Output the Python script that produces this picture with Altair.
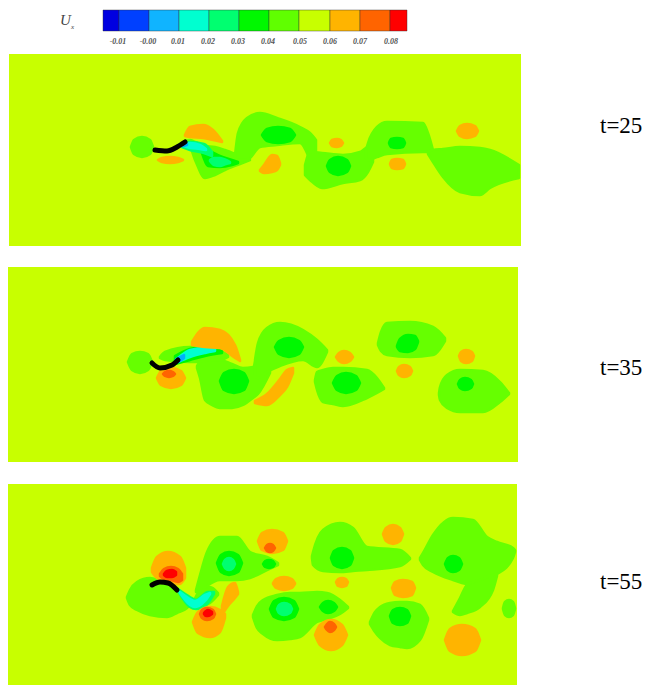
import altair as alt
import pandas as pd

# ---- frame: values are read in picture pixels
PANEL_X0 = [9, 8, 8]
PANEL_X1 = [521, 518, 517]
PANEL_Y0 = [54, 267, 484]
PANEL_Y1 = [246, 462, 685]
BACKGROUND = "#C8FF00"

LEVEL_ORDER = ["g1", "g2", "g3", "g4", "b", "o1", "o2", "r"]
LEVEL_COLORS = {"g1": "#66FF00", "g2": "#00F800", "g3": "#00FF70", "g4": "#00FFD0",
                "b": "#00B0FF", "o1": "#FFB400", "o2": "#FF6400", "r": "#FF0000"}

# ---- colour bar
BAR_EDGES = [103, 119, 149, 179, 209, 239, 269, 299, 330, 360, 390, 407]
BAR_COLORS = ["#0000E0", "#0040FF", "#10B4FF", "#00FFD0", "#00FF70", "#00F800",
              "#60FF00", "#C8FF00", "#FFB400", "#FF6400", "#FF0000"]
BAR_TICKS = ["-0.01", "-0.00", "0.01", "0.02", "0.03", "0.04", "0.05", "0.06", "0.07", "0.08"]
BAR_TICK_X = [118, 148, 178, 208, 238, 268, 300, 330, 360, 391]

TIME_LABELS = ["t=25", "t=35", "t=55"]
TIME_Y = [133, 375, 589]

# ---- contour regions: (level, x, upper edge, lower edge)
PANEL1 = [
    ("g1", [131,134,142,150,153], [147,140,137,140,147], [147,154,157,154,147]),
    ("g1", [178,190,195,205,215,225,240,250], [145,140,142,146,147,150,156,160], [145,148,160,178,175,170,164,160]),
    ("g1", [235,238,247,260,277,300,310,316], [155,133,118,113,118,127,133,140], [158,160,160,147,145,143,160,175]),
    ("g1", [305,310,322,343,360,368,373], [165,152,153,155,152,147,152], [175,180,188,183,180,172,162]),
    ("g1", [366,368,377,387,423,428,433], [150,143,127,122,123,133,150], [158,160,157,154,152,152,152]),
    ("g1", [428,433,443,460,480,490,519], [152,150,149,147,148,150,165], [154,162,177,192,195,188,178]),
    ("g2", [262,267,278,290,295], [135,129,127,129,135], [135,141,143,141,135]),
    ("g2", [327,330,338,347,350], [166,160,157,160,166], [166,172,175,172,166]),
    ("g2", [389,391,397,403,405], [143,139,138,139,143], [143,147,148,147,143]),
    ("g2", [202,208,220,232,238], [152,151,156,160,162], [153,166,167,165,163]),
    ("g3", [210,214,220,226,230], [160,158,158,160,162], [161,165,166,164,163]),
    ("g3", [182,190,204,212], [146,142,144,152], [147,150,153,156]),
    ("g4", [184,190,200,206], [145,143,145,149], [146,148,149,150]),
    ("b",  [182,184,187], [144,143,144], [146,146,145]),
    ("o1", [185,190,203,213,222], [135,127,125,130,141], [136,137,138,140,142]),
    ("o1", [158,162,170,178,183], [160,158,157,158,160], [160,162,163,162,160]),
    ("o1", [260,264,272,277,280], [170,165,155,156,163], [171,173,172,170,165]),
    ("o1", [330,332,337,341,343], [143,140,139,140,143], [143,146,147,146,143]),
    ("o1", [390,392,397,403,405], [164,160,159,160,164], [164,168,169,168,164]),
    ("o1", [457,460,467,475,478], [131,126,124,126,131], [131,136,138,136,131]),
]
PANEL2 = [
    ("g1", [128,132,140,148,152], [362,354,352,354,362], [362,370,373,370,362]),
    ("g1", [160,165,190,215,228], [357,352,347,349,355], [358,360,362,362,357]),
    ("g1", [197,200,205,212,220,232,243,253,258,270], [366,362,361,360,360,364,368,367,353,360], [368,378,400,405,408,408,405,398,394,373]),
    ("g1", [255,258,267,280,303,317,327], [360,343,328,323,330,340,350], [375,378,372,366,360,367,352]),
    ("g1", [315,317,323,333,343,367,377,384], [380,372,370,368,368,370,378,388], [382,390,402,404,406,398,393,389]),
    ("g1", [378,381,387,410,433,445], [343,332,323,322,327,338], [345,351,355,357,355,341]),
    ("g1", [439,440,447,460,483,500,509], [393,387,375,370,371,382,393], [395,400,408,412,412,402,394]),
    ("g2", [275,279,289,299,303], [347,341,338,341,347], [347,354,357,354,347]),
    ("g2", [220,224,234,244,248], [381,373,370,373,381], [381,390,393,390,381]),
    ("g2", [333,337,346,356,360], [383,376,373,376,383], [383,390,393,390,383]),
    ("g2", [397,400,408,415,418], [346,339,335,336,341], [347,351,352,349,342]),
    ("g2", [458,460,465,471,473], [384,380,378,380,384], [384,388,390,388,384]),
    ("g2", [175,190,205,222], [356,349,347,351], [364,360,356,353]),
    ("g4", [178,190,205,215], [358,350,348,349], [362,357,353,351]),
    ("b",  [176,180,184], [359,357,355], [362,361,358]),
    ("o1", [192,205,220,235,240], [342,328,330,345,360], [345,347,348,358,361]),
    ("o1", [157,161,171,181,185], [378,371,368,371,378], [378,385,388,385,378]),
    ("o2", [163,165,169,173,175], [374,372,371,372,374], [374,376,377,376,374]),
    ("o1", [255,267,280,287,293], [401,394,379,370,368], [403,405,395,387,373]),
    ("o1", [336,339,344,350,353], [357,353,351,353,357], [357,361,363,361,357]),
    ("o1", [397,399,404,410,412], [371,367,365,367,371], [371,375,377,375,371]),
    ("o1", [459,461,466,472,474], [356,352,350,352,356], [356,361,363,361,356]),
]
PANEL3 = [
    ("g1", [127,130,137,150,167,177,187,193], [597,590,582,578,585,592,597,600], [598,605,610,615,617,613,608,601]),
    ("g1", [190,193,198,210,218], [604,602,593,587,593], [606,607,607,603,595]),
    ("g1", [196,200,207,220,237,250,267,278], [590,575,552,537,537,552,557,563], [592,592,586,580,580,578,570,565]),
    ("g1", [253,257,263,277,290,300,317,327,340,348], [615,606,600,595,593,593,592,593,600,607], [617,628,634,640,639,637,622,619,614,608]),
    ("g1", [312,313,323,340,353,367,400,410], [556,552,530,523,528,547,550,558], [558,565,571,572,571,570,566,559]),
    ("g1", [420,423,433,453,473,487,497,513,515], [558,553,535,518,520,537,542,548,550], [560,565,572,580,585,578,574,558,552]),
    ("g1", [453,460,467,480,493,497], [611,598,585,580,575,574], [612,615,613,607,590,576]),
    ("g1", [370,375,380,390,400,407,420,428], [622,612,607,603,602,602,605,618], [624,632,638,645,647,648,640,620]),
    ("g1", [503,505,509,513,515], [608,602,600,602,608], [609,615,617,615,609]),
    ("g2", [217,221,229,238,242], [563,555,552,555,563], [563,572,575,572,563]),
    ("g2", [263,265,269,273,275], [564,561,560,561,564], [564,567,568,567,564]),
    ("g2", [270,274,284,294,298], [609,601,598,601,609], [609,617,620,617,609]),
    ("g2", [320,323,328,334,337], [607,603,601,603,607], [607,611,613,611,607]),
    ("g2", [331,334,342,350,353], [558,551,548,551,558], [558,565,568,565,558]),
    ("g2", [390,393,400,407,410], [616,610,608,610,616], [616,623,625,623,616]),
    ("g2", [445,448,453,459,462], [564,558,556,558,564], [564,570,572,570,564]),
    ("g3", [223,225,229,233,235], [564,560,558,560,564], [564,568,570,568,564]),
    ("g3", [277,279,284,290,292], [609,605,603,605,609], [609,613,615,613,609]),
    ("g3", [178,190,196,208,214], [589,597,600,592,592], [591,607,609,603,594]),
    ("g4", [180,190,195,205,210], [592,599,601,595,593], [593,605,607,601,594]),
    ("o1", [152,157,168,180,185], [568,557,552,557,568], [572,578,582,584,578]),
    ("o2", [160,164,171,178,182], [574,569,567,569,574], [576,579,580,582,580]),
    ("r",  [164,167,172,176], [574,571,570,572], [575,577,577,575]),
    ("o1", [258,262,272,283,287], [541,533,530,533,541], [541,550,553,550,541]),
    ("o2", [265,267,270,273,275], [548,545,544,545,548], [548,551,552,551,548]),
    ("o1", [273,276,284,292,295], [583,579,577,579,583], [584,588,590,588,584]),
    ("o1", [193,198,210,220,225], [622,612,607,610,614], [622,633,637,632,618]),
    ("o2", [200,202,207,213,215], [614,610,608,610,614], [614,618,620,618,614]),
    ("r",  [204,206,208,212], [613,611,610,612], [614,616,616,614]),
    ("o1", [222,228,235,238], [606,587,583,592], [615,606,598,594]),
    ("o1", [383,386,393,400,403], [534,528,525,528,534], [534,541,544,541,534]),
    ("o1", [336,338,342,346,348], [582,579,578,579,582], [582,586,587,586,582]),
    ("o1", [392,395,403,412,415], [588,582,580,582,588], [588,595,597,595,588]),
    ("o1", [315,320,331,342,347], [635,625,620,625,635], [635,645,650,645,635]),
    ("o2", [325,327,330,334,336], [627,624,622,624,627], [627,630,632,630,627]),
    ("o1", [445,450,462,475,480], [640,629,625,629,640], [640,651,655,651,640]),
]

# ---- flapping plates (black)
PLATE_X = [[155,167,177,185], [152,160,172,178], [152,160,168,177]]
PLATE_Y = [[150,151,147,142], [363,368,365,360], [585,582,583,590]]

# ---- tables
rows = []
for pi, panel in enumerate([PANEL1, PANEL2, PANEL3]):
    for bi, (lev, xs, ts, bs) in enumerate(panel):
        for x, t, b in zip(xs, ts, bs):
            rows.append({"blob": f"p{pi}b{bi}", "level": lev, "x": x, "top": t, "bot": b})
blobs = pd.DataFrame(rows)

panels = pd.DataFrame({"x": PANEL_X0, "x2": PANEL_X1, "y": PANEL_Y0, "y2": PANEL_Y1})
bar = pd.DataFrame({"x": BAR_EDGES[:-1], "x2": BAR_EDGES[1:], "y": [10] * 11, "y2": [31] * 11,
                    "c": BAR_COLORS})
ticks = pd.DataFrame({"x": BAR_TICK_X, "y": [42] * 10, "s": BAR_TICKS})
times = pd.DataFrame({"x": [600] * 3, "y": TIME_Y, "s": TIME_LABELS})
plates = pd.DataFrame([{"p": i, "x": x, "y": y}
                       for i in range(3) for x, y in zip(PLATE_X[i], PLATE_Y[i])])

X_SCALE = alt.Scale(domain=[8, 643], nice=False, zero=False)
Y_SCALE = alt.Scale(domain=[685, 8], nice=False, zero=False)
X = alt.X("x:Q", axis=None, scale=X_SCALE)
Y = alt.Y("y:Q", axis=None, scale=Y_SCALE)
T = alt.Y("top:Q", axis=None, scale=Y_SCALE, stack=None)

layers = [
    alt.Chart(panels).mark_rect(color=BACKGROUND).encode(x=X, x2="x2:Q", y=Y, y2="y2:Q"),
]
for lev in LEVEL_ORDER:
    sub = blobs[blobs.level == lev]
    for name in sub.blob.unique():
        one = sub[sub.blob == name]
        layers.append(
            alt.Chart(one).mark_area(interpolate="monotone", color=LEVEL_COLORS[lev],
                                     stroke=LEVEL_COLORS[lev], strokeWidth=2.5,
                                     strokeJoin="round",
                                     orient="vertical", opacity=1).encode(
                x=X, y=T, y2=alt.Y2("bot:Q")
            )
        )
layers.append(
    alt.Chart(plates).mark_line(color="black", strokeWidth=5, strokeCap="round",
                                interpolate="monotone").encode(x=X, y=Y, detail="p:N", order="x:Q")
)
layers.append(
    alt.Chart(bar).mark_rect(stroke="#333333", strokeWidth=0.6, strokeOpacity=0.7).encode(
        x=X, x2="x2:Q", y=Y, y2="y2:Q", color=alt.Color("c:N", scale=None)
    )
)
layers.append(
    alt.Chart(ticks).mark_text(font="Liberation Serif", fontSize=8, fontStyle="italic",
                               fontWeight="bold", color="#555555").encode(x=X, y=Y, text="s:N")
)
layers.append(
    alt.Chart(times).mark_text(font="Liberation Serif", fontSize=23, align="left",
                               baseline="alphabetic", color="black").encode(x=X, y=Y, text="s:N")
)
layers.append(
    alt.Chart(pd.DataFrame({"x": [60], "y": [25], "s": ["U"]})).mark_text(
        font="Liberation Serif", fontSize=15, fontStyle="italic", align="left",
        baseline="alphabetic", color="#444444").encode(x=X, y=Y, text="s:N")
)
layers.append(
    alt.Chart(pd.DataFrame({"x": [71], "y": [29], "s": ["x"]})).mark_text(
        font="Liberation Serif", fontSize=7, fontStyle="italic", align="left",
        baseline="alphabetic", color="#444444").encode(x=X, y=Y, text="s:N")
)

chart = alt.layer(*layers).properties(
    width=635, height=677, padding=0, autosize=alt.AutoSizeParams(type="none"),
    background="white",
).configure_view(stroke=None)

chart.save("out.html", embed_options={"renderer": "svg", "actions": False})
